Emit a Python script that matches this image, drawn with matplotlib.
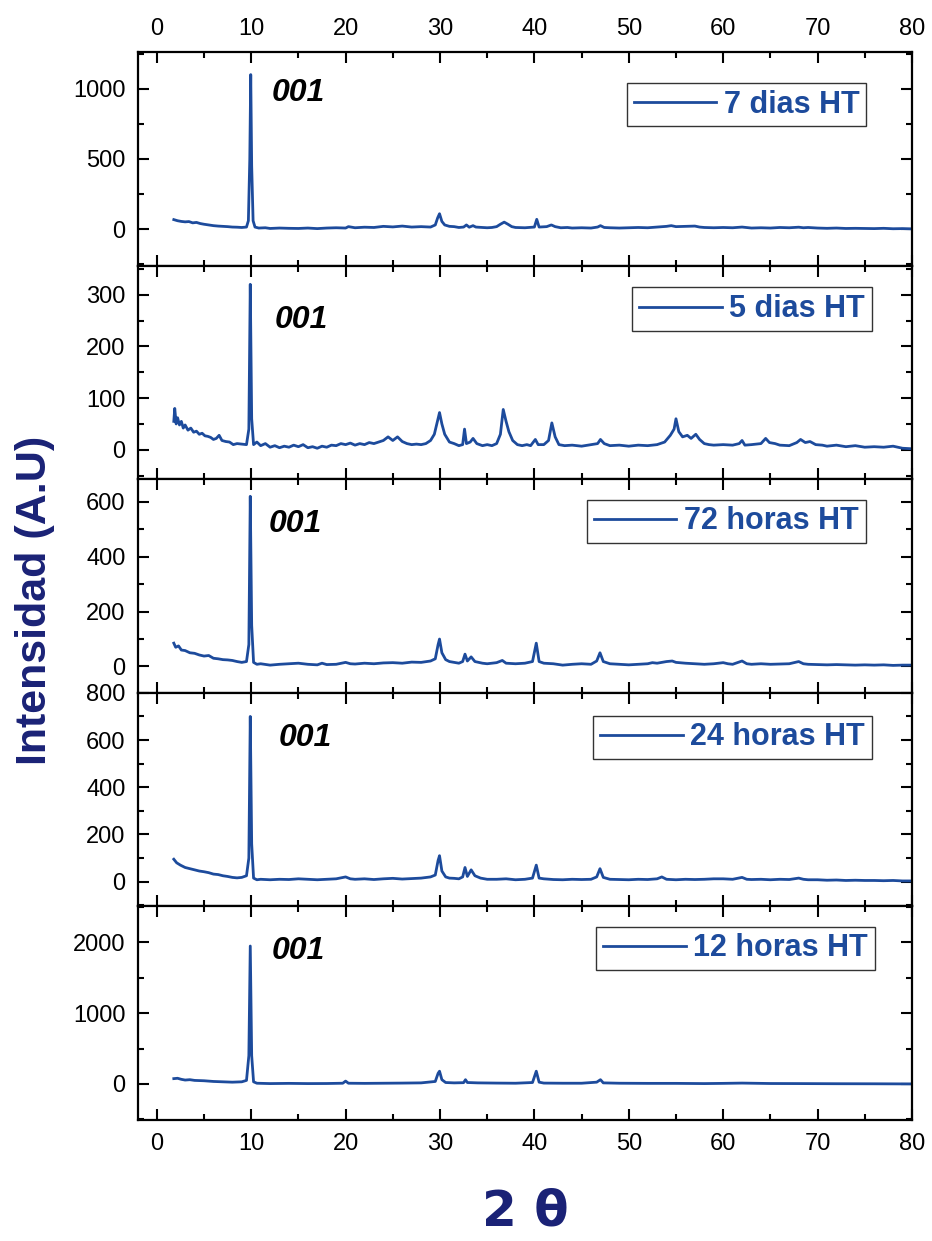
import numpy as np
import matplotlib.pyplot as plt
from matplotlib.ticker import MultipleLocator

plt.rcParams['font.family'] = ['Liberation Sans', 'DejaVu Sans']

BLUE = '#1d4b9c'
NAVY = '#1a2276'

# 2-theta / intensity pairs for each hydrothermal time, top to bottom
x_7d = [1.8, 2.2, 2.6, 3.0, 3.4, 3.8, 4.2, 4.6, 5.0, 5.5, 6.0, 6.5, 7.0, 7.5, 8.0, 8.5, 9.0, 9.5,
        9.7, 9.85, 9.95, 10.05, 10.2, 10.4, 10.8, 11.5, 12, 13, 14, 15, 16, 17, 18, 19, 20, 20.3,
        21, 22, 23, 24, 25, 26, 27, 28, 29, 29.5, 29.75, 29.95, 30.2, 30.5, 31, 31.5, 32, 32.5,
        32.8, 33.1, 33.5, 33.8, 34.5, 35, 35.5, 36, 36.4, 36.8, 37.2, 37.6, 38, 39, 40.0, 40.25,
        40.5, 41.3, 41.8, 42.2, 42.8, 43.5, 44, 45, 46, 46.7, 47, 47.4, 48, 49, 50, 51, 52, 53,
        54, 54.5, 55, 56, 57, 57.5, 58, 59, 60, 61, 62, 63, 64, 65, 66, 67, 68, 68.5, 69, 70,
        71, 72, 73, 74, 75, 76, 77, 78, 79, 80]
y_7d = [68, 60, 55, 52, 54, 45, 48, 40, 35, 30, 25, 22, 20, 18, 15, 14, 12, 15,
        60, 500, 1100, 450, 60, 15, 8, 10, 5, 8, 6, 5, 8, 4, 8, 10, 8, 18,
        10, 14, 12, 20, 16, 22, 15, 18, 15, 30, 80, 110, 55, 30, 20, 18, 12, 15,
        30, 14, 25, 15, 12, 10, 12, 18, 35, 50, 35, 18, 12, 10, 15, 70,
        15, 18, 30, 18, 10, 12, 8, 10, 8, 15, 25, 12, 10, 8, 10, 12, 10, 15,
        20, 25, 18, 20, 22, 15, 12, 10, 12, 10, 15, 8, 10, 8, 12, 10, 14, 10, 12, 8,
        6, 8, 5, 6, 5, 4, 6, 3, 4, 2]

x_5d = [1.8, 1.9, 2.05, 2.2, 2.4, 2.6, 2.8, 3.0, 3.3, 3.6, 3.9, 4.2, 4.5, 4.8, 5.1, 5.4, 5.7, 6.0,
        6.3, 6.6, 6.9, 7.3, 7.7, 8.1, 8.5, 9.0, 9.5, 9.75, 9.9, 10.05, 10.25, 10.6, 11, 11.5, 12,
        12.5, 13, 13.5, 14, 14.5, 15, 15.5, 16, 16.5, 17, 17.5, 18, 18.5, 19, 19.5, 20, 20.5, 21,
        21.5, 22, 22.5, 23, 23.5, 24, 24.5, 25, 25.5, 26, 26.5, 27, 27.5, 28, 28.5, 29, 29.4,
        29.8, 29.95, 30.2, 30.5, 31, 31.5, 32, 32.4, 32.6, 32.8, 33.2, 33.5, 33.9, 34.5, 35, 35.5,
        36, 36.4, 36.7, 37.0, 37.3, 37.7, 38.2, 38.7, 39.2, 39.6, 40.1, 40.4, 41, 41.5, 41.85,
        42.2, 42.6, 43.2, 44, 45, 46, 46.7, 47, 47.4, 48, 49, 50, 51, 52, 53, 53.8, 54.4, 54.8,
        55.0, 55.3, 55.7, 56.2, 56.6, 57.1, 57.5, 58, 58.5, 59, 60, 61, 61.7, 62, 62.3, 63, 64,
        64.5, 64.9, 65.5, 66, 67, 67.8, 68.2, 68.7, 69.2, 69.8, 70.5, 71, 72, 73, 74, 75, 76, 77,
        78, 79, 80]
y_5d = [55, 80, 50, 62, 48, 55, 42, 48, 38, 42, 34, 36, 30, 32, 27, 26, 24, 20,
        22, 28, 18, 16, 15, 10, 12, 11, 10, 40, 320, 60, 10, 15, 8, 12, 5,
        8, 4, 7, 5, 9, 6, 10, 4, 6, 3, 7, 5, 9, 8, 12, 10, 13, 9,
        12, 10, 14, 12, 15, 18, 25, 18, 25, 16, 12, 10, 11, 10, 12, 18, 30,
        60, 72, 50, 30, 15, 12, 8, 10, 40, 12, 15, 22, 12, 8, 10, 8,
        12, 30, 78, 55, 35, 18, 10, 8, 10, 8, 20, 10, 10, 18, 52,
        25, 10, 8, 9, 7, 10, 12, 20, 12, 8, 9, 7, 9, 8, 10, 15, 28, 40,
        60, 35, 25, 28, 22, 30, 20, 12, 10, 9, 10, 9, 12, 18, 9, 10, 12,
        22, 14, 12, 9, 8, 14, 20, 14, 16, 10, 9, 7, 9, 6, 8, 5, 6, 5,
        7, 3, 2]

x_72h = [1.8, 2.0, 2.3, 2.6, 3.0, 3.5, 4.0, 4.5, 5.0, 5.5, 6.0, 6.5, 7.0, 7.5, 8.0, 8.5, 9.0, 9.5,
         9.75, 9.9, 10.05, 10.25, 10.6, 11, 12, 13, 14, 15, 16, 17, 17.5, 18, 19, 20, 20.5, 21,
         22, 23, 24, 25, 26, 27, 28, 29, 29.5, 29.8, 29.95, 30.2, 30.6, 31, 31.5, 32, 32.4,
         32.65, 32.9, 33.3, 33.7, 34.5, 35, 35.5, 36, 36.6, 37, 38, 39, 39.8, 40.2, 40.5, 41, 42,
         43, 44, 45, 46, 46.6, 46.95, 47.3, 48, 49, 50, 51, 52, 52.5, 53, 53.5, 54, 54.6, 55, 56,
         57, 58, 59, 60, 60.5, 61, 62, 62.5, 63, 64, 65, 66, 67, 68, 68.5, 69, 70, 71, 72, 73,
         74, 75, 76, 77, 78, 79, 80]
y_72h = [85, 70, 75, 60, 58, 50, 48, 42, 38, 40, 30, 28, 25, 24, 22, 18, 15, 18,
         80, 620, 150, 15, 8, 10, 5, 8, 10, 12, 8, 6, 12, 7, 8, 15, 10, 9,
         12, 10, 13, 14, 12, 16, 15, 20, 28, 80, 100, 50, 25, 18, 15, 12, 18,
         45, 20, 35, 18, 12, 10, 12, 14, 22, 12, 10, 12, 18, 85, 18, 12, 10,
         5, 8, 10, 8, 20, 50, 18, 10, 8, 6, 8, 10, 14, 12, 15, 18, 20, 15, 12,
         10, 8, 10, 14, 10, 8, 20, 10, 8, 10, 8, 9, 10, 18, 10, 8, 7, 6, 7, 6,
         5, 6, 5, 6, 4, 5, 5]

x_24h = [1.8, 2.1, 2.5, 3.0, 3.5, 4.0, 4.5, 5.0, 5.5, 6.0, 6.5, 7.0, 7.5, 8.0, 8.5, 9.0, 9.5,
         9.75, 9.9, 10.05, 10.25, 10.6, 11, 12, 13, 14, 15, 16, 17, 18, 19, 20, 20.5, 21, 22,
         23, 24, 25, 26, 27, 28, 29, 29.5, 29.8, 29.95, 30.2, 30.6, 31, 31.5, 32, 32.4, 32.65,
         32.9, 33.3, 33.7, 34.3, 35, 36, 37, 38, 39, 39.8, 40.2, 40.5, 41, 42, 43, 44, 45, 46,
         46.6, 46.95, 47.3, 48, 49, 50, 51, 52, 53, 53.5, 54, 55, 56, 57, 58, 59, 60, 61, 62,
         62.5, 63, 64, 65, 66, 67, 68, 68.5, 69, 70, 71, 72, 73, 74, 75, 76, 77, 78, 79, 80]
y_24h = [95, 80, 70, 60, 55, 50, 45, 42, 38, 32, 30, 25, 22, 18, 16, 18, 25,
         100, 700, 160, 15, 8, 10, 8, 10, 9, 12, 10, 8, 10, 12, 20, 12, 10, 12,
         9, 12, 14, 11, 13, 15, 20, 28, 90, 110, 45, 20, 15, 14, 12, 20, 60,
         22, 50, 25, 15, 10, 10, 12, 8, 10, 15, 70, 15, 12, 9, 8, 10, 9, 10,
         20, 55, 18, 10, 9, 8, 10, 9, 12, 20, 10, 8, 10, 9, 10, 12, 12, 10, 18,
         10, 9, 10, 8, 10, 9, 15, 10, 8, 8, 6, 7, 5, 6, 5, 5, 4, 5, 3, 3]

x_12h = [1.8, 2.2, 2.6, 3.0, 3.5, 4.0, 5.0, 6.0, 7.0, 8.0, 9.0, 9.5, 9.75, 9.9, 10.05, 10.25, 10.6,
         12, 14, 16, 18, 19.7, 20.0, 20.3, 22, 24, 26, 28, 29.5, 29.8, 29.95, 30.2, 30.6, 31.5,
         32.5, 32.7, 32.9, 34, 36, 38, 39.8, 40.2, 40.5, 41, 43, 45, 46.6, 47.0, 47.3, 49, 52, 55,
         58, 60, 62, 65, 68, 72, 76, 80]
y_12h = [75, 80, 65, 55, 60, 50, 45, 35, 30, 25, 30, 50, 400, 1950, 400, 30, 10,
         5, 8, 5, 6, 10, 40, 10, 8, 10, 12, 15, 35, 150, 180, 60, 20, 15,
         18, 60, 20, 15, 12, 10, 20, 180, 25, 12, 10, 10, 25, 60, 15, 10, 8, 8,
         5, 8, 12, 6, 5, 3, 2, 0]

labels = ['7 dias HT', '5 dias HT', '72 horas HT', '24 horas HT', '12 horas HT']
series = [(x_7d, y_7d), (x_5d, y_5d), (x_72h, y_72h), (x_24h, y_24h), (x_12h, y_12h)]

# per panel: y limits, major/minor y step, legend anchor, "001" position
ylims = [(-260, 1260), (-57, 356), (-96, 682), (-105, 800), (-510, 2510)]
ysteps = [(500, 250), (100, 50), (200, 100), (200, 100), (1000, 500)]
leg_anchor = [(0.941, 0.856), (0.948, 0.898), (0.940, 0.905), (0.948, 0.893), (0.952, 0.906)]
peak_txt = [(12.2, 0.81), (12.5, 0.744), (11.8, 0.79), (12.9, 0.79), (12.2, 0.79)]

fig, axes = plt.subplots(nrows=5, ncols=1, sharex=True, figsize=(9.32, 12.41), dpi=100)
fig.subplots_adjust(left=0.148, right=0.9785, top=0.958, bottom=0.0975, hspace=0)

for k, ax in enumerate(axes):
    x, y = series[k]
    ax.plot(x, y, color=BLUE, linewidth=2.0, label=labels[k])
    ax.set_xlim(-2, 80)
    ax.set_ylim(*ylims[k])
    ax.xaxis.set_major_locator(MultipleLocator(10))
    ax.xaxis.set_minor_locator(MultipleLocator(5))
    ax.yaxis.set_major_locator(MultipleLocator(ysteps[k][0]))
    ax.yaxis.set_minor_locator(MultipleLocator(ysteps[k][1]))
    ax.tick_params(which='both', direction='in', top=True, right=True, width=1.5,
                   labelsize=17, pad=9, labelbottom=(k == 4), labeltop=(k == 0))
    ax.tick_params(which='major', length=8)
    ax.tick_params(which='minor', length=4)
    for s in ax.spines.values():
        s.set_linewidth(1.6)

    leg = ax.legend(loc='upper right', bbox_to_anchor=leg_anchor[k], borderaxespad=0,
                    fancybox=False, edgecolor='black', handlelength=2.7, handletextpad=0.25,
                    borderpad=0.22, prop={'weight': 'bold', 'size': 22})
    leg.get_frame().set_linewidth(1.0)
    for t in leg.get_texts():
        t.set_color(BLUE)

    ax.text(peak_txt[k][0], peak_txt[k][1], '001', transform=ax.get_xaxis_transform(),
            fontsize=23, fontweight='bold', fontstyle='italic', va='center', ha='left')

fig.text(0.0375, 0.516, 'Intensidad (A.U)', rotation=90, fontsize=31, fontweight='bold',
         color=NAVY, ha='center', va='center')
fig.text(0.5633, 0.0234, '2 θ', fontsize=36, fontweight='bold', color=NAVY,
         family='DejaVu Sans', ha='center', va='center')

fig.savefig('out.png', dpi=100)
